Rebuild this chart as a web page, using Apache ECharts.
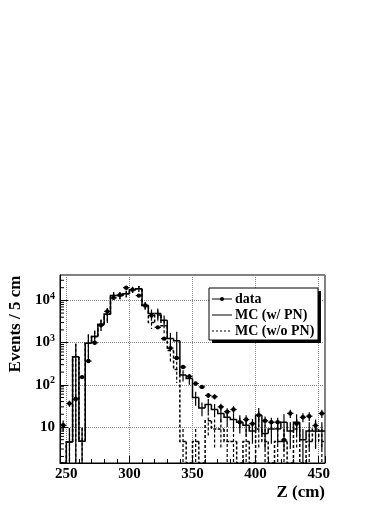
<!DOCTYPE html>
<html lang="en" style="height: 100%">
<head>
  <meta charset="utf-8">
</head>
<body style="height: 100%; margin: 0; background: #fff">
  <div id="container" style="width: 390px; height: 505px"></div>

  <script type="text/javascript" src="https://fastly.jsdelivr.net/npm/echarts@6/dist/echarts.min.js"></script>

  <script type="text/javascript">
    // 5 cm bins from 245 to 455 cm, values are bin centres
    var binCenters = [247.5, 252.5, 257.5, 262.5, 267.5, 272.5, 277.5, 282.5, 287.5, 292.5,
      297.5, 302.5, 307.5, 312.5, 317.5, 322.5, 327.5, 332.5, 337.5, 342.5,
      347.5, 352.5, 357.5, 362.5, 367.5, 372.5, 377.5, 382.5, 387.5, 392.5,
      397.5, 402.5, 407.5, 412.5, 417.5, 422.5, 427.5, 432.5, 437.5, 442.5,
      447.5, 452.5];
    var dataCounts = [11, 36, 46, 152, 365, 990, 2600, 5500, 11500, 13500,
      20000, 18000, 13000, 7600, 4400, 2300, 1240, 740, 430, 263,
      158, 107, 89, 56, 52, 30, 23, 26, 13, 15,
      12, 19, 14, 13, 13, 4.9, 21, 12, 17, 18,
      10.8, 21];
    var dataErrors = [3.3, 6, 6.8, 12, 19, 31, 51, 74, 107, 116,
      141, 134, 114, 87, 66, 48, 35, 27, 21, 16,
      12.6, 10.3, 9.4, 7.5, 7.2, 5.5, 4.8, 5.1, 3.6, 3.9,
      3.5, 4.4, 3.7, 3.6, 3.6, 2.2, 4.6, 3.5, 4.1, 4.2,
      3.3, 4.6];
    var mcWithPN = [0, 4.4, 460, 4.6, 960, 1400, 2700, 4700, 13100, 13100,
      14400, 18000, 19000, 7600, 4900, 4900, 3400, 1250, 1100, 170,
      140, 50, 28, 34, 26, 21, 17, 15, 13, 11,
      8, 19, 7, 9, 9, 13, 8, 13, 5, 8,
      8, 8];
    var mcWithPNErrors = [0, 5, 480, 5, 600, 500, 800, 1800, 2500, 2500,
      2500, 3000, 3000, 1500, 1200, 1500, 1000, 450, 700, 50,
      40, 18, 10, 12, 9, 8, 7, 6, 6, 5,
      4, 9, 4, 5, 5, 7, 5, 7, 4, 5,
      5, 5];
    var mcWithoutPN = [0, 4.4, 460, 4.6, 960, 1400, 2700, 4700, 13100, 13100,
      14400, 18000, 19000, 7600, 3000, 4500, 2500, 650, 230, 4.5,
      0, 4.5, 0, 14, 9, 9, 4.5, 4.5, 0, 4.5,
      0, 9, 4.5, 0, 4.5, 4.5, 0, 9, 0, 4.5,
      9, 4.5];
    var mcWithoutPNErrors = [0, 5, 480, 5, 600, 500, 800, 1800, 2500, 2500,
      2500, 3000, 3000, 1500, 900, 1300, 900, 300, 120, 4.5,
      0, 4.5, 0, 8, 6, 6, 4.5, 4.5, 0, 4.5,
      0, 6, 4.5, 0, 4.5, 4.5, 0, 6, 0, 4.5,
      6, 4.5];
    var legendLabels = ['data', 'MC (w/ PN)', 'MC (w/o PN)'];

    var X_MIN = 245, X_MAX = 455, HALF_BIN = 2.5;
    var Y_MIN = 1.4, Y_MAX = 40000;
    var FONT = '"Liberation Serif", "DejaVu Serif", serif';

    // minor ticks of the log axis at 2..9 x 10^k
    var yMinorTicks = [];
    for (var k = 0; k <= 4; k++) {
      for (var m = 2; m <= 9; m++) {
        var t = m * Math.pow(10, k);
        if (t > Y_MIN && t < Y_MAX) yMinorTicks.push([X_MIN, t]);
      }
    }

    function clampY(v) {
      return Math.min(Math.max(v, Y_MIN), Y_MAX);
    }

    function histData(values, errors) {
      return binCenters.map(function (x, i) {
        return [x, values[i], i > 0 ? values[i - 1] : 0, errors[i]];
      });
    }

    function stepRenderer(dash) {
      return function (params, api) {
        var x = api.value(0);
        var v = api.value(1);
        var err = api.value(3);
        var a = api.coord([x - HALF_BIN, clampY(api.value(2))]);
        var b = api.coord([x - HALF_BIN, clampY(v)]);
        var c = api.coord([x + HALF_BIN, clampY(v)]);
        var style = { stroke: '#000', lineWidth: 1.5, fill: null, lineDash: dash };
        var children = [{ type: 'polyline', shape: { points: [a, b, c] }, style: style }];
        if (err > 0) {
          var hi = api.coord([x, clampY(v + err)]);
          var lo = api.coord([x, clampY(v - err)]);
          children.push({
            type: 'line',
            shape: { x1: hi[0], y1: hi[1], x2: lo[0], y2: lo[1] },
            style: { stroke: '#000', lineWidth: 1.2, lineDash: dash }
          });
        }
        return { type: 'group', children: children };
      };
    }

    function pointRenderer(params, api) {
      var x = api.value(0);
      var v = api.value(1);
      var err = api.value(2);
      var p = api.coord([x, clampY(v)]);
      var l = api.coord([x - HALF_BIN, clampY(v)]);
      var r = api.coord([x + HALF_BIN, clampY(v)]);
      var hi = api.coord([x, clampY(v + err)]);
      var lo = api.coord([x, clampY(v - err)]);
      var st = { stroke: '#000', lineWidth: 1.2 };
      return {
        type: 'group',
        children: [
          { type: 'line', shape: { x1: l[0], y1: l[1], x2: r[0], y2: r[1] }, style: st },
          { type: 'line', shape: { x1: hi[0], y1: hi[1], x2: lo[0], y2: lo[1] }, style: st },
          { type: 'circle', shape: { cx: p[0], cy: p[1], r: 2.2 }, style: { fill: '#000' } }
        ]
      };
    }

    var dom = document.getElementById('container');
    var myChart = echarts.init(dom, null, { renderer: 'canvas' });

    var textStyle = { fontFamily: FONT, fontWeight: 'bold', color: '#000' };

    var option = {
      animation: false,
      backgroundColor: '#fff',
      grid: {
        left: 60,
        top: 275,
        right: 65,
        bottom: 42,
        show: true,
        borderColor: '#000',
        borderWidth: 1
      },
      xAxis: {
        type: 'value',
        min: X_MIN,
        max: X_MAX,
        axisLine: { lineStyle: { color: '#000', width: 1 } },
        axisTick: { inside: true, length: 7, lineStyle: { color: '#000' } },
        minorTick: { show: true, splitNumber: 5, length: 4, lineStyle: { color: '#000' } },
        splitLine: { show: true, lineStyle: { color: '#888', type: 'dotted', width: 1 } },
        axisLabel: Object.assign({
          fontSize: 15,
          margin: 4,
          showMinLabel: false,
          showMaxLabel: false
        }, textStyle)
      },
      yAxis: {
        type: 'log',
        logBase: 10,
        min: Y_MIN,
        max: Y_MAX,
        axisLine: { lineStyle: { color: '#000', width: 1 } },
        axisTick: { inside: true, length: 8, lineStyle: { color: '#000' } },
        splitLine: { show: true, lineStyle: { color: '#888', type: 'dotted', width: 1 } },
        axisLabel: Object.assign({
          fontSize: 15,
          margin: 5,
          showMinLabel: false,
          showMaxLabel: false,
          formatter: function (value) {
            var e = Math.round(Math.log(value) / Math.LN10);
            if (e === 1) return '{b|10}';
            return '{b|10}{s|' + e + '}';
          },
          rich: {
            b: { fontFamily: FONT, fontWeight: 'bold', fontSize: 15, lineHeight: 18, color: '#000' },
            s: { fontFamily: FONT, fontWeight: 'bold', fontSize: 10, lineHeight: 10, color: '#000', verticalAlign: 'top' }
          }
        }, textStyle)
      },
      series: [
        {
          name: legendLabels[2],
          type: 'custom',
          silent: true,
          renderItem: stepRenderer([3, 2]),
          encode: { x: 0, y: 1 },
          data: histData(mcWithoutPN, mcWithoutPNErrors),
          z: 2
        },
        {
          name: legendLabels[1],
          type: 'custom',
          silent: true,
          renderItem: stepRenderer(null),
          encode: { x: 0, y: 1 },
          data: histData(mcWithPN, mcWithPNErrors),
          z: 3
        },
        {
          name: legendLabels[0],
          type: 'custom',
          silent: true,
          renderItem: pointRenderer,
          encode: { x: 0, y: 1 },
          data: binCenters.map(function (x, i) {
            return [x, dataCounts[i], dataErrors[i]];
          }),
          z: 4
        },
        {
          // minor ticks on the log axis
          type: 'custom',
          silent: true,
          renderItem: function (params, api) {
            var p = api.coord([api.value(0), api.value(1)]);
            return {
              type: 'line',
              shape: { x1: p[0], y1: p[1], x2: p[0] + 4, y2: p[1] },
              style: { stroke: '#000', lineWidth: 1 }
            };
          },
          encode: { x: 0, y: 1 },
          data: yMinorTicks,
          z: 5
        }
      ],
      graphic: [
        {
          type: 'text',
          x: 16,
          y: 324,
          rotation: Math.PI / 2,
          style: {
            text: 'Events / 5 cm',
            font: 'bold 17px ' + FONT,
            fill: '#000',
            textAlign: 'center',
            textVerticalAlign: 'middle'
          }
        },
        {
          type: 'text',
          x: 325,
          y: 493,
          style: {
            text: 'Z (cm)',
            font: 'bold 17px ' + FONT,
            fill: '#000',
            textAlign: 'right',
            textVerticalAlign: 'middle'
          }
        },
        // legend box with drop shadow
        { type: 'rect', shape: { x: 212, y: 291, width: 109, height: 52 }, style: { fill: '#000' }, z: 100 },
        { type: 'rect', shape: { x: 209, y: 288, width: 109, height: 52 }, style: { fill: '#fff', stroke: '#000', lineWidth: 1 }, z: 101 },
        { type: 'line', shape: { x1: 212, y1: 299, x2: 232, y2: 299 }, style: { stroke: '#000', lineWidth: 1 }, z: 102 },
        { type: 'circle', shape: { cx: 222, cy: 299, r: 2 }, style: { fill: '#000' }, z: 102 },
        { type: 'line', shape: { x1: 212, y1: 315, x2: 232, y2: 315 }, style: { stroke: '#000', lineWidth: 1 }, z: 102 },
        { type: 'line', shape: { x1: 212, y1: 331, x2: 232, y2: 331 }, style: { stroke: '#000', lineWidth: 1, lineDash: [2, 2] }, z: 102 },
        { type: 'text', x: 235, y: 299, style: { text: legendLabels[0], font: 'bold 14px ' + FONT, fill: '#000', textVerticalAlign: 'middle' }, z: 102 },
        { type: 'text', x: 235, y: 315, style: { text: legendLabels[1], font: 'bold 14px ' + FONT, fill: '#000', textVerticalAlign: 'middle' }, z: 102 },
        { type: 'text', x: 235, y: 331, style: { text: legendLabels[2], font: 'bold 14px ' + FONT, fill: '#000', textVerticalAlign: 'middle' }, z: 102 }
      ]
    };

    myChart.setOption(option);
    window.addEventListener('resize', myChart.resize);
  </script>
</body>
</html>
